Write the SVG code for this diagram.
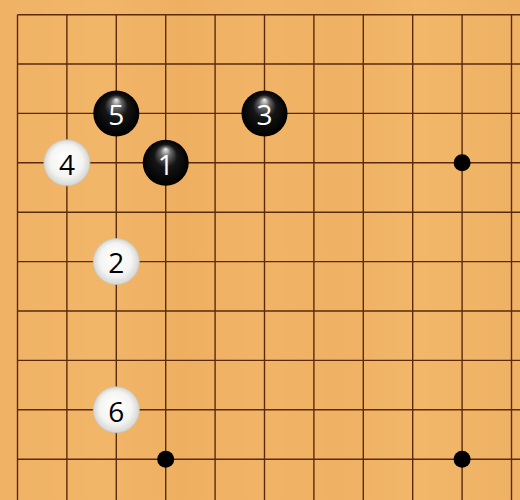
<svg xmlns="http://www.w3.org/2000/svg" width="520" height="500" viewBox="0 0 520 500">
<defs>
<linearGradient id="wood" x1="0" y1="0" x2="1" y2="0">
<stop offset="0" stop-color="#f0b366"/>
<stop offset="0.2" stop-color="#f2b668"/>
<stop offset="0.35" stop-color="#eeaf61"/>
<stop offset="0.5" stop-color="#f1b466"/>
<stop offset="0.65" stop-color="#efb163"/>
<stop offset="0.8" stop-color="#f2b769"/>
<stop offset="1" stop-color="#efb265"/>
</linearGradient>
<radialGradient id="bstone" cx="0.5" cy="0.5" r="0.5" fx="0.5" fy="0.2">
<stop offset="0" stop-color="#f0f0f0"/>
<stop offset="0.22" stop-color="#6a6a6a"/>
<stop offset="0.5" stop-color="#151515"/>
<stop offset="1" stop-color="#000"/>
</radialGradient>
<radialGradient id="wstone" cx="0.5" cy="0.5" r="0.5" fx="0.45" fy="0.35">
<stop offset="0" stop-color="#ffffff"/>
<stop offset="0.7" stop-color="#f4f4f2"/>
<stop offset="1" stop-color="#d6d6d3"/>
</radialGradient>
<style>
.grid line{stroke:#5a2a0c;stroke-width:1.4}
.star{fill:#000}
.b{fill:url(#bstone)}
.w{fill:url(#wstone);stroke:#c8c8c4;stroke-width:0.8}
.bt{fill:#fff;font-family:"Open Sans","Noto Sans",sans-serif;font-size:28px;text-anchor:middle;dominant-baseline:central}
.wt{fill:#000;font-family:"Open Sans","Noto Sans",sans-serif;font-size:28px;text-anchor:middle;dominant-baseline:central}
</style>
</defs>
<rect x="0" y="0" width="520" height="500" fill="url(#wood)"/>
<g id="connectors" class="grid">
<line x1="17.5" y1="14.7" x2="520" y2="14.7"/>
<line x1="17.5" y1="64" x2="520" y2="64"/>
<line x1="17.5" y1="113.4" x2="520" y2="113.4"/>
<line x1="17.5" y1="162.8" x2="520" y2="162.8"/>
<line x1="17.5" y1="212.2" x2="520" y2="212.2"/>
<line x1="17.5" y1="261.6" x2="520" y2="261.6"/>
<line x1="17.5" y1="311" x2="520" y2="311"/>
<line x1="17.5" y1="360.4" x2="520" y2="360.4"/>
<line x1="17.5" y1="409.8" x2="520" y2="409.8"/>
<line x1="17.5" y1="459.2" x2="520" y2="459.2"/>
<line x1="17.5" y1="14.7" x2="17.5" y2="500"/>
<line x1="66.9" y1="14.7" x2="66.9" y2="500"/>
<line x1="116.3" y1="14.7" x2="116.3" y2="500"/>
<line x1="165.7" y1="14.7" x2="165.7" y2="500"/>
<line x1="215.1" y1="14.7" x2="215.1" y2="500"/>
<line x1="264.5" y1="14.7" x2="264.5" y2="500"/>
<line x1="313.9" y1="14.7" x2="313.9" y2="500"/>
<line x1="363.3" y1="14.7" x2="363.3" y2="500"/>
<line x1="412.7" y1="14.7" x2="412.7" y2="500"/>
<line x1="462.1" y1="14.7" x2="462.1" y2="500"/>
<line x1="511.5" y1="14.7" x2="511.5" y2="500"/>
</g>
<g id="stars">
<circle class="star" cx="462.1" cy="162.8" r="8.5"/>
<circle class="star" cx="165.7" cy="459.2" r="8.5"/>
<circle class="star" cx="462.1" cy="459.2" r="8.5"/>
</g>
<g id="s1"><circle class="b" cx="165.7" cy="162.8" r="23"/><text class="bt" x="165.7" y="163.5">1</text></g>
<g id="s2"><circle class="w" cx="116.3" cy="261.6" r="23"/><text class="wt" x="116.3" y="262.3">2</text></g>
<g id="s3"><circle class="b" cx="264.5" cy="113.4" r="23"/><text class="bt" x="264.5" y="114.1">3</text></g>
<g id="s4"><circle class="w" cx="66.9" cy="162.8" r="23"/><text class="wt" x="66.9" y="163.5">4</text></g>
<g id="s5"><circle class="b" cx="116.3" cy="113.4" r="23"/><text class="bt" x="116.3" y="114.1">5</text></g>
<g id="s6"><circle class="w" cx="116.3" cy="409.8" r="23"/><text class="wt" x="116.3" y="410.5">6</text></g>
</svg>
